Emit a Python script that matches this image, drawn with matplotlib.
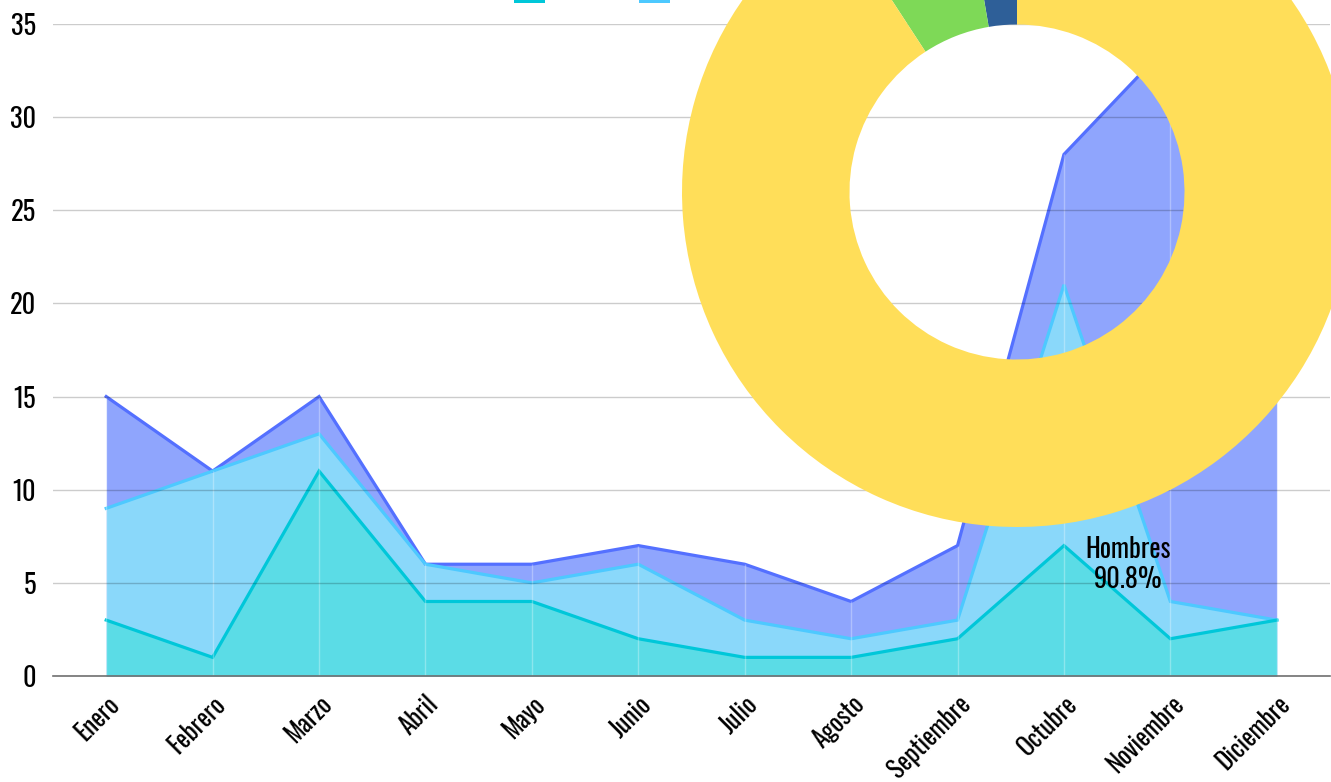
import matplotlib
matplotlib.use("Agg")
import matplotlib.pyplot as plt
from matplotlib.patches import Rectangle
import numpy as np

plt.rcParams['font.family'] = ['Oswald', 'Archivo Narrow', 'DejaVu Sans']

months = ["Enero", "Febrero", "Marzo", "Abril", "Mayo", "Junio", "Julio",
          "Agosto", "Septiembre", "Octubre", "Noviembre", "Diciembre"]
serie_a = [3, 1, 11, 4, 4, 2, 1, 1, 2, 7, 2, 3]
serie_b = [9, 11, 13, 6, 5, 6, 3, 2, 3, 21, 4, 3]
serie_c = [15, 11, 15, 6, 6, 7, 6, 4, 7, 28, 34, 18]

donut_labels = ["Otros", "Mujeres", "Hombres"]
donut_values = [2.7, 6.5, 90.8]
donut_colors = ["#2E5F98", "#7ED957", "#FFDE59"]

line_colors = ["#00C7D9", "#4DC9FF", "#5470FF"]
fill_colors = ["#5BDCE6", "#8AD8FA", "#8FA5FD"]

W, H = 1331, 782
fig = plt.figure(figsize=(W / 100, H / 100), dpi=100)

# main area chart
ax = fig.add_axes([53 / W, (H - 676) / H, 1277 / W, 652 / H])
x = np.arange(len(months))

# back to front: largest series first
for vals, lc, fc in [(serie_c, line_colors[2], fill_colors[2]),
                     (serie_b, line_colors[1], fill_colors[1]),
                     (serie_a, line_colors[0], fill_colors[0])]:
    ax.fill_between(x, 0, vals, color=fc, lw=0, zorder=1)
    ax.plot(x, vals, color=lc, lw=2.3, zorder=2, solid_joinstyle='miter')

# faint seams at each month inside the fill
top = np.maximum.reduce([serie_a, serie_b, serie_c])
ax.vlines(x, 0, top, color="white", alpha=0.3, lw=1, zorder=2.2)

ax.set_xlim(-0.5, 11.5)
ax.set_ylim(0, 35)
ax.set_yticks(range(0, 36, 5))
ax.set_xticks(x)
ax.set_xticklabels(months, rotation=45, ha="right", va="top",
                   rotation_mode="anchor", fontsize=18)
ax.tick_params(axis="x", length=0, pad=11)
ax.tick_params(axis="y", length=0, pad=12, labelsize=19)
ax.grid(axis="y", color="black", alpha=0.2, lw=1, zorder=3)
ax.set_axisbelow(False)
for s in ["top", "right", "left"]:
    ax.spines[s].set_visible(False)
ax.spines["bottom"].set_color("#707070")
ax.spines["bottom"].set_linewidth(1.2)
ax.spines["bottom"].set_zorder(4)

# legend swatches, mostly cut off at the top edge
for i, c in enumerate(line_colors):
    fig.add_artist(Rectangle(((514 + 125 * i) / W, 1 - 3 / H), 31 / W, 3 / H,
                             transform=fig.transFigure, color=c, lw=0))

# donut overlay
R = 335
cx, cy = 1017, 192
ax2 = fig.add_axes([(cx - R) / W, (H - cy - R) / H, 2 * R / W, 2 * R / H], zorder=5)
wedges, _ = ax2.pie(donut_values, colors=donut_colors, startangle=90,
                    counterclock=True, radius=1,
                    wedgeprops=dict(width=0.5, linewidth=0))
ax2.set_xlim(-1, 1)
ax2.set_ylim(-1, 1)
ax2.axis("off")
w = wedges[2]
ang = np.deg2rad((w.theta1 + w.theta2) / 2)
ax2.text(1.16 * np.cos(ang), 1.16 * np.sin(ang),
         f"{donut_labels[2]}\n{donut_values[2]}%", ha="center", va="center",
         fontsize=19, linespacing=1.15, clip_on=False)

fig.savefig("out.png", dpi=100)
